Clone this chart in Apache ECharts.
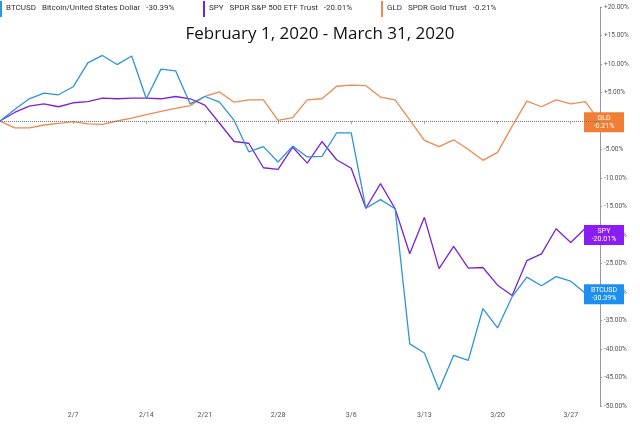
<!DOCTYPE html>
<html><head><meta charset="utf-8">
<script src="https://cdn.jsdelivr.net/npm/echarts@6/dist/echarts.min.js"></script>
<style>html,body{margin:0;padding:0;background:#fff}#c{width:640px;height:425px}</style>
</head><body><div id="c"></div>
<script>
const dates = ["1/31","2/3","2/4","2/5","2/6","2/7","2/10","2/11","2/12","2/13","2/14","2/18","2/19","2/20","2/21","2/24","2/25","2/26","2/27","2/28","3/2","3/3","3/4","3/5","3/6","3/9","3/10","3/11","3/12","3/13","3/16","3/17","3/18","3/19","3/20","3/23","3/24","3/25","3/26","3/27","3/30","3/31"];
const tickDates = ["2/7","2/14","2/21","2/28","3/6","3/13","3/20","3/27"];
const btc = [0,2.0,3.9,4.9,4.6,6.0,10.2,11.5,9.9,11.4,3.9,9.1,8.8,3.0,4.3,3.3,0.1,-5.4,-4.5,-7.2,-4.4,-6.3,-6.2,-2.1,-2.1,-15.3,-13.8,-15.4,-39.1,-40.7,-47.2,-41.1,-42.0,-32.9,-36.3,-30.8,-27.4,-28.9,-27.3,-28.1,-30.2,-30.39];
const spy = [0,1.5,2.6,3.0,2.5,3.2,3.4,4.0,3.9,4.0,4.0,3.9,4.3,3.9,2.8,-0.4,-3.6,-3.9,-8.2,-8.5,-4.6,-7.4,-3.6,-6.8,-8.3,-15.3,-11.0,-15.4,-23.3,-16.9,-25.9,-22.0,-25.8,-25.7,-28.8,-30.6,-24.5,-23.3,-18.9,-21.3,-18.8,-20.01];
const gld = [0,-1.2,-1.2,-0.7,-0.4,-0.1,-0.5,-0.6,0,0.5,1.1,1.7,2.2,2.7,4.3,5.1,3.3,3.7,3.7,0.1,0.6,3.7,3.9,6.1,6.3,6.2,4.2,3.7,0.2,-3.4,-4.5,-3.3,-5.0,-6.9,-5.5,-0.9,3.5,2.5,3.7,3.0,3.4,-0.21];
const names = ["BTCUSD","SPY","GLD"];
const colors = ["#2d95d8","#7a22d6","#ec8a52"];
const labelColors = ["#1e8ff0","#8a1cf5","#f07f35"];
const legendTexts = [["BTCUSD","Bitcoin/United States Dollar","-30.39%"],["SPY","SPDR S&P 500 ETF Trust","-20.01%"],["GLD","SPDR Gold Trust","-0.21%"]];
const legendX = [0,203,381];

const chart = echarts.init(document.getElementById('c'));
function mk(i, data){
  return {name:names[i], type:'line', data:data, symbol:'none', smooth:false,
    lineStyle:{color:colors[i], width:1.3}, itemStyle:{color:colors[i]}, z: 3-i,
    endLabel:{show:true, formatter: p=> names[i]+'\n'+data[data.length-1].toFixed(2)+'%', color:'#fff', fontSize:7, fontFamily:'Roboto',
      backgroundColor:labelColors[i], padding:[2,3,2,3], width:34, align:'center', lineHeight:8, offset:[-4,0]},
    markLine: i===2 ? {silent:true, symbol:'none', label:{show:false}, lineStyle:{color:'#777', type:'dotted', width:1}, data:[{yAxis:0}]} : undefined
  };
}
const graphics = [];
legendTexts.forEach((t,i)=>{
  graphics.push({type:'rect', left:legendX[i], top:1, shape:{width:2,height:16}, style:{fill:colors[i]}});
  graphics.push({type:'text', left:legendX[i]+6, top:4, style:{text:t[0]+'   '+t[1]+'   '+t[2], fill:'#333', font:'8px Roboto'}});
});
graphics.push({type:'text', left:'center', top:26, style:{text:'February 1, 2020 - March 31, 2020', fill:'#111', font:'500 17px "Open Sans"'}});
chart.setOption({
  animation:false,
  grid:{left:0, right:40, top:7, bottom:19},
  graphic: graphics,
  xAxis:{type:'category', data:dates, boundaryGap:false,
    axisLine:{show:false}, axisTick:{show:true, interval:(i,v)=>tickDates.includes(v), length:3, lineStyle:{color:'#aaa'}},
    axisLabel:{interval:(i,v)=>tickDates.includes(v), color:'#555', fontSize:7, fontFamily:'Roboto', margin:6},
    splitLine:{show:false}},
  yAxis:{type:'value', position:'right', min:-50, max:20, interval:5,
    axisLine:{show:true, lineStyle:{color:'#999'}}, axisTick:{show:true, length:2, inside:false, lineStyle:{color:'#999'}},
    axisLabel:{color:'#555', fontSize:6.5, fontFamily:'Roboto', margin:4, formatter:v=>(v>0?'+':'')+v.toFixed(2)+'%'},
    splitLine:{show:false}},
  series:[mk(0,btc), mk(1,spy), mk(2,gld)]
});
</script></body></html>
